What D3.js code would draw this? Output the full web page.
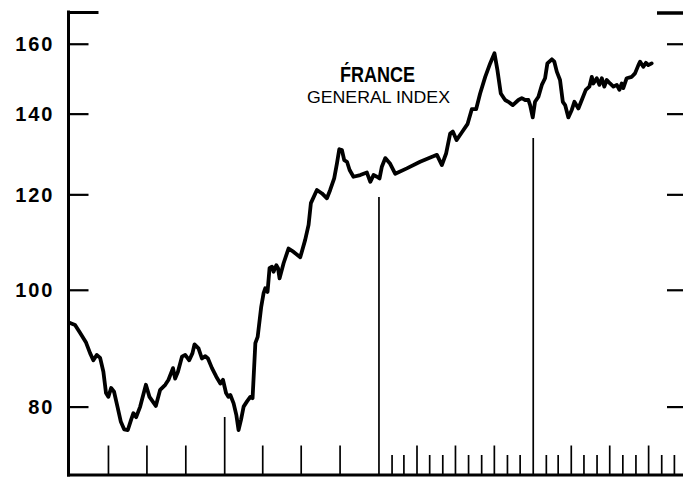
<!DOCTYPE html>
<html>
<head>
<meta charset="utf-8">
<script src="https://cdn.jsdelivr.net/npm/d3@7"></script>
<style>
  body { margin: 0; background: #fff; }
  svg { display: block; }
</style>
</head>
<body>
<div id="chart"></div>
<script>
// France, general share index (log scale)
var years = [
  1952.000,1952.036,1952.068,1952.107,1952.133,1952.154,1952.176,1952.198,1952.219,1952.236,
  1952.251,1952.269,1952.288,1952.310,1952.332,1952.353,1952.377,1952.398,1952.413,1952.431,
  1952.457,1952.494,1952.517,1952.558,1952.586,1952.619,1952.640,1952.669,1952.683,1952.701,
  1952.727,1952.748,1952.774,1952.795,1952.808,1952.834,1952.856,1952.878,1952.895,1952.921,
  1952.949,1952.975,1952.992,1953.012,1953.027,1953.040,1953.061,1953.079,1953.093,1953.109,
  1953.126,1953.148,1953.169,1953.184,1953.202,1953.217,1953.240,1953.255,1953.266,1953.281,
  1953.294,1953.310,1953.320,1953.338,1953.349,1953.359,1953.385,1953.417,1953.450,1953.493,
  1953.525,1953.547,1953.562,1953.601,1953.634,1953.666,1953.687,1953.713,1953.731,1953.746,
  1953.763,1953.778,1953.796,1953.813,1953.838,1953.882,1953.925,1953.947,1953.968,1953.990,
  1954.007,1954.022,1954.044,1954.076,1954.109,1954.184,1954.270,1954.379,1954.411,1954.439,
  1954.465,1954.482,1954.506,1954.541,1954.578,1954.605,1954.633,1954.659,1954.692,1954.724,
  1954.752,1954.771,1954.793,1954.821,1954.842,1954.871,1954.907,1954.929,1954.951,1954.972,
  1954.983,1955.000,1955.015,1955.037,1955.059,1955.080,1955.095,1955.124,1955.140,1955.156,
  1955.177,1955.195,1955.210,1955.231,1955.253,1955.270,1955.296,1955.318,1955.344,1955.367,
  1955.383,1955.393,1955.415,1955.432,1955.448,1955.464,1955.480,1955.501,1955.523,1955.545,
  1955.562,1955.577,1955.587,1955.609,1955.642,1955.663,1955.685,1955.696,1955.717,1955.734,
  1955.749,1955.771
];
var index = [
  93.9,93.5,92.1,90.4,88.6,87.4,88.3,87.8,85.5,82.1,
  81.5,82.9,82.3,80.0,77.7,76.6,76.5,78.0,79.0,78.4,
  80.0,83.4,81.5,80.1,82.6,83.4,84.2,86.1,84.4,85.5,
  88.0,88.3,87.4,88.6,90.1,89.4,87.7,88.1,87.7,86.1,
  84.7,83.6,84.2,82.1,81.5,81.8,80.5,78.7,76.5,78.0,
  80.0,80.8,81.5,81.3,90.3,91.4,96.8,99.3,100.3,99.6,
  104.2,104.5,103.5,104.8,104.2,102.2,105.2,108.2,107.5,106.4,
  110.0,113.2,118.0,121.0,120.2,119.1,121.0,123.7,127.3,130.8,
  130.6,128.1,127.7,125.7,124.1,124.5,125.1,122.9,124.5,124.1,
  123.7,126.5,128.6,127.2,124.8,126.1,127.7,129.4,126.9,129.8,
  134.8,135.3,133.1,135.1,137.3,141.2,141.2,145.5,150.2,154.1,
  157.1,152.2,145.5,143.7,143.2,142.3,143.7,144.2,143.7,143.7,
  142.3,139.0,143.2,144.6,147.9,149.8,154.1,155.3,154.6,151.7,
  149.3,143.2,142.3,139.0,141.0,143.2,141.4,143.7,146.5,147.4,
  150.2,148.3,149.8,147.9,149.8,147.4,149.3,148.3,147.4,147.9,
  146.5,148.3,147.0,149.8,150.2,151.2,153.6,154.6,153.1,154.3,
  153.6,154.1
];
var yTicks = [80, 100, 120, 140, 160];
var firstYear = 1952, lastYear = 1956;
var titleText = "F\u0301RANCE";
var subtitleText = "GENERAL INDEX";

var width = 683, height = 477;

function toDate(y) {
  var yr = Math.floor(y + 1e-9);
  var a = new Date(yr, 0, 1), b = new Date(yr + 1, 0, 1);
  return new Date(+a + (y - yr) * (b - a));
}

var data = years.map(function(y, i) { return {date: toDate(y), value: index[i]}; });

var x = d3.scaleTime()
  .domain([new Date(firstYear, 0, 1), new Date(lastYear, 0, 1)])
  .range([69.5, 687]);

var y = d3.scaleLog()
  .domain([70.2, 170])
  .range([475, 12]);

var svg = d3.select("#chart").append("svg")
  .attr("width", width)
  .attr("height", height);

var axisX = 68.5, baseY = y.range()[0], topY = y.range()[1];

/* y axes */
var left = svg.append("g")
  .attr("transform", "translate(" + axisX + ",0)")
  .call(d3.axisLeft(y).tickValues(yTicks).tickFormat(d3.format("d"))
    .tickSizeInner(-20).tickSizeOuter(0).tickPadding(14));
left.select(".domain").remove();
left.selectAll(".tick line").attr("stroke", "#000").attr("stroke-width", 2.2);
left.selectAll(".tick text")
  .attr("fill", "#000")
  .style("font-family", "'Liberation Sans', Arial, sans-serif")
  .style("font-weight", "bold")
  .style("font-size", "20px")
  .style("letter-spacing", "2px")
  .attr("dy", "0.36em");

var right = svg.append("g")
  .attr("transform", "translate(" + width + ",0)")
  .call(d3.axisRight(y).tickValues(yTicks).tickFormat("").tickSizeInner(-16).tickSizeOuter(0));
right.select(".domain").remove();
right.selectAll(".tick line").attr("stroke", "#000").attr("stroke-width", 2.2);

/* frame */
svg.append("line")
  .attr("x1", axisX).attr("x2", axisX)
  .attr("y1", topY - 1.5).attr("y2", baseY + 1.5)
  .attr("stroke", "#000").attr("stroke-width", 3);
svg.append("line")
  .attr("x1", axisX - 1.5).attr("x2", width)
  .attr("y1", baseY).attr("y2", baseY)
  .attr("stroke", "#000").attr("stroke-width", 3);
svg.append("line")
  .attr("x1", axisX - 1.5).attr("x2", axisX + 30)
  .attr("y1", topY + 0.5).attr("y2", topY + 0.5)
  .attr("stroke", "#000").attr("stroke-width", 3);
svg.append("line")
  .attr("x1", width - 26).attr("x2", width)
  .attr("y1", topY + 1).attr("y2", topY + 1)
  .attr("stroke", "#000").attr("stroke-width", 3.5);

/* time ticks: quarters in the first two years, months later, tall year lines */
var tickDates = [], yearTop = {};
yearTop[firstYear + 1] = 417;
yearTop[firstYear + 2] = 197;
yearTop[firstYear + 3] = 138;
for (var yr = firstYear; yr < lastYear; yr++) {
  var monthly = yr >= firstYear + 2;
  for (var m = 0; m < 12; m++) {
    if (!monthly && m % 3 !== 0) continue;
    if (yr === firstYear && m === 0) continue;
    tickDates.push(new Date(yr, m, 1));
  }
}
function tickSize(d) {
  if (d.getMonth() === 0) return baseY - yearTop[d.getFullYear()];
  if (d.getMonth() % 3 === 0) return 29.5;
  return 20;
}

var bottom = svg.append("g")
  .attr("transform", "translate(0," + baseY + ")")
  .call(d3.axisTop(x).tickValues(tickDates).tickFormat("").tickSizeOuter(0));
bottom.select(".domain").remove();
bottom.selectAll(".tick line")
  .attr("y2", function(d) { return -tickSize(d); })
  .attr("stroke", "#000")
  .attr("stroke-width", 1.7);

/* index line */
var line = d3.line()
  .x(function(d) { return x(d.date); })
  .y(function(d) { return y(d.value); });

svg.append("path")
  .datum(data)
  .attr("d", line)
  .attr("fill", "none")
  .attr("stroke", "#000")
  .attr("stroke-width", 3.8)
  .attr("stroke-linejoin", "round")
  .attr("stroke-linecap", "round");

/* title */
svg.append("text")
  .attr("x", 340).attr("y", 82)
  .attr("textLength", 75).attr("lengthAdjust", "spacingAndGlyphs")
  .style("font-family", "'Liberation Sans', Arial, sans-serif")
  .style("font-weight", "bold")
  .style("font-size", "22px")
  .text(titleText);

svg.append("text")
  .attr("x", 307).attr("y", 102.5)
  .attr("textLength", 143).attr("lengthAdjust", "spacingAndGlyphs")
  .style("font-family", "'Liberation Sans', Arial, sans-serif")
  .style("font-size", "16.5px")
  .text(subtitleText);
</script>
</body>
</html>
